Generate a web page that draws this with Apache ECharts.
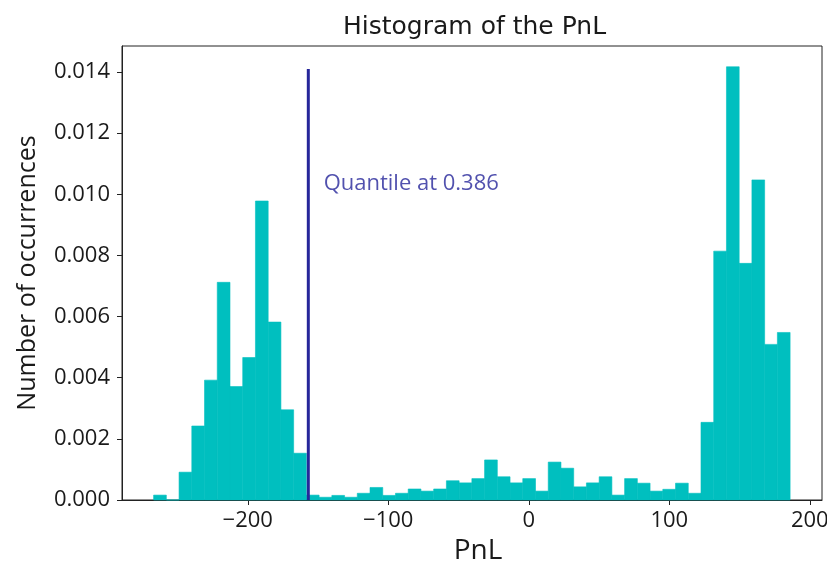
<!DOCTYPE html>
<html>
<head>
<meta charset="utf-8">
<script src="https://cdn.jsdelivr.net/npm/echarts@6/dist/echarts.min.js"></script>
<style>html,body{margin:0;padding:0;background:#fff}#chart{width:827px;height:563px}</style>
</head>
<body>
<div id="chart"></div>
<script>
// Histogram bins (50 bins of equal width)
const binMin = -267.0;
const binWidth = 9.06;
const densities = [
  0.00016, 0.00000, 0.00091, 0.00242, 0.00392, 0.00712, 0.00371, 0.00466, 0.00978, 0.00582,
  0.00295, 0.00153, 0.00016, 0.00009, 0.00015, 0.00009, 0.00022, 0.00041, 0.00015, 0.00022,
  0.00036, 0.00029, 0.00036, 0.00063, 0.00056, 0.00070, 0.00131, 0.00076, 0.00056, 0.00070,
  0.00029, 0.00124, 0.00104, 0.00043, 0.00056, 0.00076, 0.00016, 0.00070, 0.00055, 0.00029,
  0.00035, 0.00055, 0.00022, 0.00254, 0.00814, 0.01417, 0.00774, 0.01047, 0.00509, 0.00548
];
const quantileX = -156.9;
const quantileTop = 0.0141;
const quantileLabel = 'Quantile at 0.386';
const quantileLabelPos = [-146, 0.01034];
const xTicks = [-200, -100, 0, 100, 200];
const yTicks = [0, 0.002, 0.004, 0.006, 0.008, 0.010, 0.012, 0.014];

const barData = densities.map((d, i) => [binMin + i * binWidth, binMin + (i + 1) * binWidth, d]);

const chart = echarts.init(document.getElementById('chart'), null, {renderer: 'canvas'});
const tickFont = 'Open Sans';
const ink = '#1a1a1a';
const navy = '#26269a';
chart.setOption({
  animation: false,
  backgroundColor: '#fff',
  title: {
    text: 'Histogram of the PnL',
    left: 338, top: 10,
    textStyle: {fontFamily: 'DejaVu Sans', fontSize: 25, fontWeight: 'normal', color: ink}
  },
  grid: {left: 122, right: 5, top: 46, bottom: 63, outerBoundsMode: 'none', containLabel: false,
    show: true, borderColor: '#222', borderWidth: 1, backgroundColor: 'transparent'},
  xAxis: {
    type: 'value', min: -289.5, max: 208.7,
    name: 'PnL', nameLocation: 'middle', nameGap: 37,
    nameTextStyle: {fontFamily: tickFont, fontSize: 28, color: ink, padding: [0, 0, 0, 12]},
    axisLine: {show: true, onZero: false, lineStyle: {color: '#222', width: 1}},
    axisTick: {show: true, length: 5, inside: false, customValues: xTicks, lineStyle: {color: '#222'}},
    axisLabel: {customValues: xTicks, margin: 10, fontFamily: tickFont, fontSize: 22, color: ink,
      formatter: v => String(v).replace('-', '\u2212')},
    splitLine: {show: false}
  },
  yAxis: {
    type: 'value', min: 0, max: 0.01485,
    name: 'Number of occurrences', nameLocation: 'middle', nameGap: 82, nameRotate: 90,
    nameTextStyle: {fontFamily: tickFont, fontSize: 25, color: ink},
    axisLine: {show: true, onZero: false, lineStyle: {color: '#222', width: 1}},
    axisTick: {show: true, length: 5, inside: false, customValues: yTicks, lineStyle: {color: '#222'}},
    axisLabel: {customValues: yTicks, margin: 12, fontFamily: tickFont, fontSize: 22, color: ink,
      formatter: v => v.toFixed(3)},
    splitLine: {show: false}
  },
  series: [
    {
      type: 'custom',
      data: barData,
      encode: {x: [0, 1], y: 2},
      renderItem: function (params, api) {
        const p0 = api.coord([api.value(0), api.value(2)]);
        const p1 = api.coord([api.value(1), 0]);
        return {
          type: 'rect',
          shape: {x: p0[0], y: p0[1], width: p1[0] - p0[0], height: p1[1] - p0[1]},
          style: {fill: '#00bfbf', stroke: '#00bfbf', lineWidth: 0.6}
        };
      },
      z: 2
    },
    {
      type: 'line',
      data: [[quantileX, 0], [quantileX, quantileTop]],
      symbol: 'none',
      lineStyle: {color: navy, width: 3},
      z: 3
    },
    {
      type: 'scatter',
      data: [quantileLabelPos],
      symbolSize: 0,
      label: {show: true, position: 'right', distance: 0, formatter: quantileLabel,
        fontFamily: tickFont, fontSize: 22, color: navy},
      z: 4
    }
  ]
});
</script>
</body>
</html>
